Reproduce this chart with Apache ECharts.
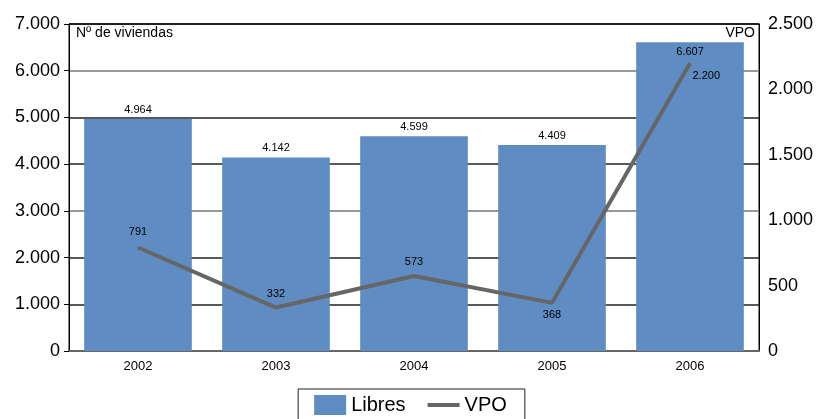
<!DOCTYPE html>
<html>
<head>
<meta charset="utf-8">
<script src="https://cdn.jsdelivr.net/npm/echarts@6/dist/echarts.min.js"></script>
<style>
  html, body { margin: 0; padding: 0; background: #fff; }
  #main { width: 821px; height: 419px; }
</style>
</head>
<body>
<div id="main"></div>
<script>
var years = ['2002', '2003', '2004', '2005', '2006'];
var libres = [4964, 4142, 4599, 4409, 6607];
var vpo = [791, 332, 573, 368, 2200];

var fontName = '"Liberation Sans", Arial, sans-serif';

function miles(v) {
    return String(v).replace(/\B(?=(\d{3})+(?!\d))/g, '.');
}

// posiciones de las etiquetas
var libresLabelPos = ['top', 'top', 'top', 'top', 'insideTop'];
var vpoLabelPos = ['top', 'top', 'top', 'bottom', 'right'];

var myChart = echarts.init(document.getElementById('main'));

option = {
    textStyle: { fontFamily: fontName },
    grid: {
        left: 69,
        right: 62,
        top: 24,
        bottom: 68,
        show: true,
        borderColor: '#000',
        borderWidth: 1
    },
    legend: {
        bottom: -6,
        left: 'center',
        data: [
            { name: 'Libres', icon: 'rect' },
            { name: 'VPO', icon: 'path://M0,0 L36,0 L36,4.5 L0,4.5 Z' }
        ],
        itemWidth: 32,
        itemHeight: 20,
        itemGap: 22,
        padding: [6, 18, 10, 16],
        borderColor: '#222',
        borderWidth: 1,
        textStyle: { fontSize: 20, color: '#000', fontFamily: fontName }
    },
    graphic: [
        {
            type: 'text', left: 76, top: 26,
            style: { text: 'Nº de viviendas', fontSize: 14, fill: '#000', fontFamily: fontName }
        },
        {
            type: 'text', right: 66, top: 26,
            style: { text: 'VPO', fontSize: 14, fill: '#000', fontFamily: fontName }
        }
    ],
    xAxis: {
        type: 'category',
        data: years,
        axisTick: { show: false },
        axisLine: { lineStyle: { color: '#666', width: 2 } },
        axisLabel: { color: '#000', fontSize: 13, margin: 9 }
    },
    yAxis: [
        {
            type: 'value',
            min: 0,
            max: 7000,
            interval: 1000,
            axisLine: { show: true, lineStyle: { color: '#000' } },
            axisTick: { show: true, length: 5, lineStyle: { color: '#000' } },
            axisLabel: { color: '#000', fontSize: 18, margin: 9, formatter: miles },
            splitLine: {
                lineStyle: {
                    color: ['#555', '#222', '#222', '#777', '#222', '#222', '#777', '#000'],
                    width: 1.5
                }
            }
        },
        {
            type: 'value',
            min: 0,
            max: 2500,
            interval: 500,
            axisLine: { show: true, lineStyle: { color: '#000' } },
            axisTick: { show: false },
            axisLabel: { color: '#000', fontSize: 18, margin: 9, formatter: miles },
            splitLine: { show: false }
        }
    ],
    series: [
        {
            name: 'Libres',
            type: 'bar',
            barWidth: '78%',
            itemStyle: { color: '#5f8cc2' },
            data: libres.map(function (v, i) {
                return { value: v, label: { position: libresLabelPos[i] } };
            }),
            label: {
                show: true,
                distance: 4,
                fontSize: 11,
                color: '#000',
                formatter: function (p) { return miles(p.value); }
            }
        },
        {
            name: 'VPO',
            type: 'line',
            yAxisIndex: 1,
            symbol: 'circle',
            symbolSize: 1,
            showSymbol: true,
            itemStyle: { color: '#666' },
            lineStyle: { color: '#666', width: 4 },
            data: vpo.map(function (v, i) {
                var pos = vpoLabelPos[i];
                var lbl = { position: pos };
                if (pos === 'top') lbl.distance = i === 0 ? 10 : 8;
                if (pos === 'bottom') lbl.distance = 6;
                if (pos === 'right') { lbl.distance = 2; lbl.offset = [0, 13]; }
                return { value: v, label: lbl };
            }),
            label: {
                show: true,
                fontSize: 11,
                color: '#000',
                formatter: function (p) { return miles(p.value); }
            }
        }
    ]
};

myChart.setOption(option);
</script>
</body>
</html>
